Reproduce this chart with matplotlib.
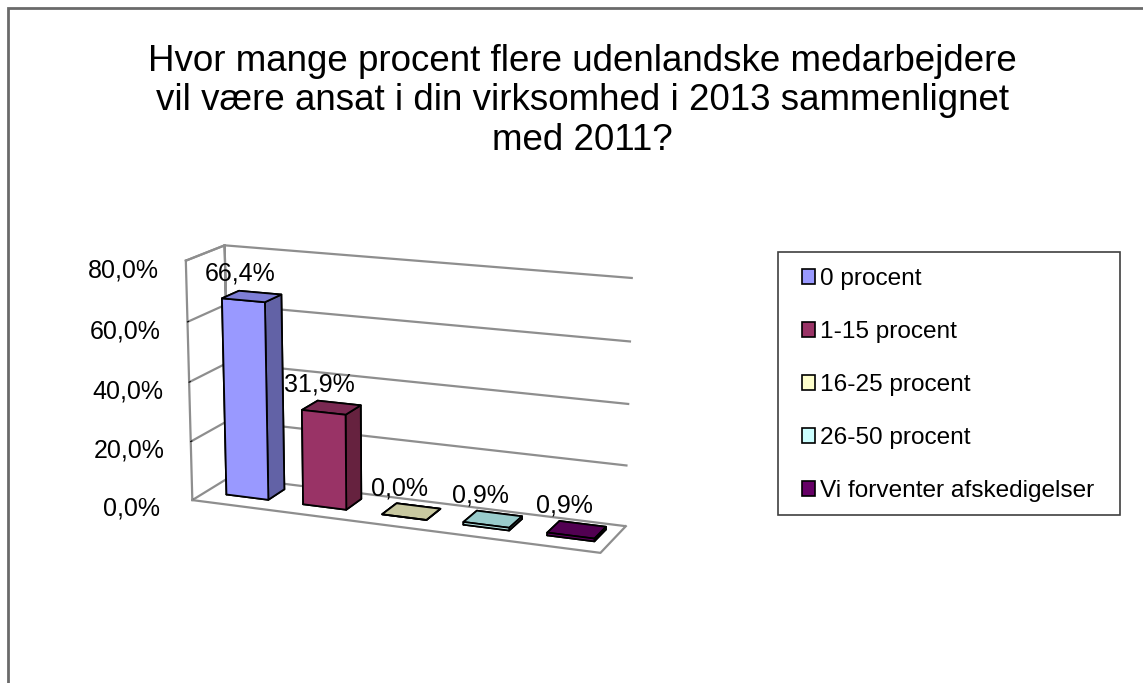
import matplotlib.pyplot as plt
from matplotlib.patches import Rectangle, Patch
from mpl_toolkits.mplot3d import Axes3D  # noqa

plt.rcParams['font.family'] = ['Liberation Sans', 'DejaVu Sans']

# -----------------------------
#  Data
# -----------------------------
title = ("Hvor mange procent flere udenlandske medarbejdere\n"
         "vil være ansat i din virksomhed i 2013 sammenlignet\n"
         "med 2011?")
categories = ["0 procent", "1-15 procent", "16-25 procent", "26-50 procent",
              "Vi forventer afskedigelser"]
values = [66.4, 31.9, 0.0, 0.9, 0.9]
value_labels = ["66,4%", "31,9%", "0,0%", "0,9%", "0,9%"]
yticks = [0, 20, 40, 60, 80]
ytick_labels = ["0,0%", "20,0%", "40,0%", "60,0%", "80,0%"]

# front / top / side colours per bar
front_cols = ["#9999FF", "#993366", "#FFFFCC", "#CCFFFF", "#660066"]
top_cols = ["#7E7ED6", "#7A2952", "#C8C8A0", "#99CCCC", "#520052"]
side_cols = ["#6262A6", "#66223F", "#A6A682", "#7FA8A8", "#3D003D"]

GRID = '#8E8E8E'

fig = plt.figure(figsize=(11.43, 6.83), dpi=100)

# chart border (only top and left visible in crop)
fig.add_artist(Rectangle((8 / 1143, -0.5), 2, 0.988 + 0.5, transform=fig.transFigure,
                         fill=False, edgecolor='#6a6a6a', lw=2))

fig.text(0.5096, 1 - 44 / 683, title, ha='center', va='top', fontsize=26.5,
         linespacing=1.16)

# -----------------------------
#  3D bars
# -----------------------------
ax = fig.add_axes([0.0585, 0.055, 0.58, 0.72], projection='3d')
ax.set_proj_type('persp', focal_length=0.8)
ax.view_init(elev=15, azim=-68)
ax.set_box_aspect((6.1, 1.2, 3.5), zoom=1.015)

x0, x1 = -0.55, 4.45
y0, y1 = 0, 1
z0, z1 = yticks[0], yticks[-1]

bw = 0.55
bd = 0.45
by = 0.35
xs, ys, zs, dxs, dys, dzs, cols = [], [], [], [], [], [], []
for i, v in enumerate(values):
    xs.append(i - bw / 2)
    ys.append(by)
    zs.append(0)
    dxs.append(bw)
    dys.append(bd)
    dzs.append(v)
    # face order: -Z, +Z, -Y, +Y, -X, +X
    cols += [top_cols[i], top_cols[i], front_cols[i], front_cols[i],
             front_cols[i], side_cols[i]]

# wall / floor outlines
ax.plot([x0, x1, x1], [y0, y0, y1], [z0, z0, z0], color=GRID, lw=1.6)
ax.plot([x0, x0, x0, x0], [y0, y1, y1, y1], [z1, z1, z0, z1], color=GRID, lw=1.6)

ax.bar3d(xs, ys, zs, dxs, dys, dzs, color=cols, shade=False,
         edgecolor='black', linewidth=1.3)

# data labels above each bar
for i, v in enumerate(values):
    ax.text(i - 0.15, by + bd / 2, v + 5, value_labels[i], ha='center',
            va='baseline', fontsize=18)

ax.set_xlim(x0, x1)
ax.set_ylim(y0, y1)
ax.set_zlim(z0, z1)
ax.set_xticks([])
ax.set_yticks([])
ax.set_zticks(yticks)
ax.set_zticklabels(ytick_labels, fontsize=18)
ax.zaxis.set_ticks_position('lower')
ax.tick_params(axis='z', pad=19)

for axis in (ax.xaxis, ax.yaxis, ax.zaxis):
    axis.set_pane_color((1, 1, 1, 0))
    axis._axinfo['grid']['color'] = GRID
    axis._axinfo['grid']['linewidth'] = 1.6
    axis._axinfo['tick']['color'] = GRID
    axis._axinfo['tick']['inward_factor'] = 0.0
    axis._axinfo['tick']['outward_factor'] = 0.35
ax.xaxis.line.set_color((1, 1, 1, 0))
ax.yaxis.line.set_color((1, 1, 1, 0))
ax.zaxis.line.set_color(GRID)
ax.zaxis.line.set_linewidth(1.6)
ax.grid(True)

# -----------------------------
#  Legend
# -----------------------------
fig.add_artist(Rectangle((778 / 1143, 1 - 515 / 683), 342 / 1143, 263 / 683,
                         transform=fig.transFigure, fill=False,
                         edgecolor='#404040', lw=1.2))
handles = [Patch(facecolor=c, edgecolor='black', lw=1.2) for c in front_cols]
leg = fig.legend(handles, categories, loc='upper left',
                 bbox_to_anchor=(802 / 1143, 1 - 268 / 683), fontsize=17.6,
                 frameon=False, handlelength=0.55, handleheight=0.55,
                 handletextpad=0.2, labelspacing=1.27, borderpad=0,
                 borderaxespad=0)

plt.savefig("out.png", dpi=100)
